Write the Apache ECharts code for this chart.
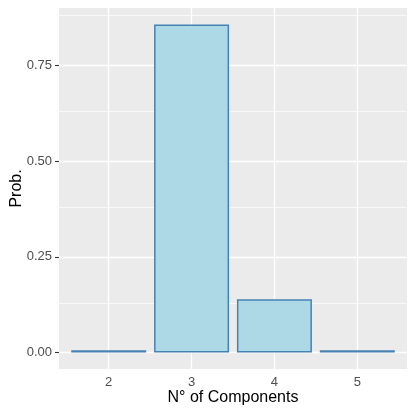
<!DOCTYPE html>
<html><head><meta charset="utf-8">
<script src="https://cdn.jsdelivr.net/npm/echarts@6/dist/echarts.min.js"></script>
<style>html,body{margin:0;padding:0;background:#fff}#c{width:415px;height:415px}</style>
</head><body><div id="c"></div>
<script>
const categories = [2, 3, 4, 5];
const probs = [0.006, 0.857, 0.139, 0.006];
const yTicks = [0, 0.25, 0.5, 0.75];
const yMinor = [0.125, 0.375, 0.625, 0.875];
const xTitle = "N° of Components";
const yTitle = "Prob.";

const FONT = "Liberation Sans, Arial, sans-serif";
const chart = echarts.init(document.getElementById('c'), null, {renderer: 'canvas'});

const gridMarks = [];
categories.forEach(v => gridMarks.push({xAxis: v, lineStyle: {color: '#fff', width: 1.4, type: 'solid'}}));
yTicks.forEach(v => gridMarks.push({yAxis: v, lineStyle: {color: '#fff', width: 1.4, type: 'solid'}}));
yMinor.forEach(v => gridMarks.push({yAxis: v, lineStyle: {color: '#fff', width: 0.7, type: 'solid'}}));

chart.setOption({
  animation: false,
  grid: {left: 59, right: 8, top: 8, bottom: 46, show: true, backgroundColor: '#EBEBEB', borderWidth: 0,
    containLabel: false, outerBoundsMode: 'none'},
  xAxis: {
    type: 'value', min: 1.4, max: 5.6,
    name: xTitle, nameLocation: 'middle', nameGap: 21, nameMoveOverlap: false,
    nameTextStyle: {fontFamily: FONT, fontSize: 16, color: '#000'},
    axisLine: {show: false},
    axisTick: {show: true, length: 4, lineStyle: {color: '#333', width: 1.1}, customValues: categories},
    axisLabel: {customValues: categories, fontFamily: FONT, fontSize: 13, color: '#4D4D4D', margin: 7},
    splitLine: {show: false}
  },
  yAxis: {
    type: 'value', min: -0.0429, max: 0.9,
    name: yTitle, nameLocation: 'middle', nameGap: 34, nameRotate: 90, nameMoveOverlap: false,
    nameTextStyle: {fontFamily: FONT, fontSize: 16, color: '#000'},
    axisLine: {show: false},
    axisTick: {show: true, length: 4, lineStyle: {color: '#333', width: 1.1}, customValues: yTicks},
    axisLabel: {customValues: yTicks, fontFamily: FONT, fontSize: 13, color: '#4D4D4D', margin: 7,
      formatter: v => v.toFixed(2)},
    splitLine: {show: false}
  },
  series: [
    {
      type: 'line', data: [], silent: true,
      markLine: {silent: true, symbol: 'none', label: {show: false}, animation: false, data: gridMarks}
    },
    {
      type: 'bar',
      data: categories.map((c, i) => [c, probs[i]]),
      barWidth: 75,
      itemStyle: {color: '#ADD8E6', borderColor: '#4682B4', borderWidth: 1.5},
      z: 5
    }
  ]
});
</script></body></html>
